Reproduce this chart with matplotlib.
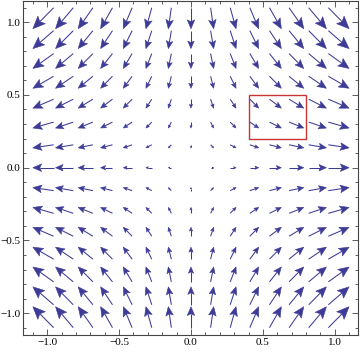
import matplotlib
matplotlib.use("Agg")
import matplotlib.pyplot as plt
import numpy as np
from matplotlib.collections import LineCollection, PolyCollection
from matplotlib.patches import Rectangle
from matplotlib.ticker import MultipleLocator

# sample positions (15 per axis) and field components
xs = [-1.027, -0.880, -0.733, -0.587, -0.440, -0.293, -0.147, 0.0,
      0.147, 0.293, 0.440, 0.587, 0.733, 0.880, 1.027]
ys = [-1.027, -0.880, -0.733, -0.587, -0.440, -0.293, -0.147, 0.0,
      0.147, 0.293, 0.440, 0.587, 0.733, 0.880, 1.027]
# horizontal component per column, vertical component per row
u_cols = [-1.03, -0.88, -0.73, -0.59, -0.44, -0.29, -0.15, 0.0,
          0.15, 0.29, 0.44, 0.59, 0.73, 0.88, 1.03]
v_rows = [1.03, 0.88, 0.73, 0.59, 0.44, 0.29, 0.15, 0.0,
          -0.15, -0.29, -0.44, -0.59, -0.73, -0.88, -1.03]

box = (0.4, 0.2, 0.8, 0.5)  # x0, y0, x1, y1

arrow_col = "#3d3b96"
X, Y = np.meshgrid(xs, ys)
U, V = np.meshgrid(u_cols, v_rows)

fig = plt.figure(figsize=(3.6, 3.52), dpi=100)
ax = fig.add_axes([0.065, 0.048, 0.929, 0.949])

scale = 0.14
shafts, heads = [], []
for x, y, u, v in zip(X.ravel(), Y.ravel(), U.ravel(), V.ravel()):
    m = np.hypot(u, v)
    if m < 1e-9:
        continue
    d = np.array([u, v]) / m
    n = np.array([-d[1], d[0]])
    L = scale * m
    p = np.array([x, y])
    tail = p - d * L / 2
    tip = p + d * L / 2
    hl = 0.42 * L
    hw = 0.18 * L
    back = tip - d * hl
    notch = tip - d * hl * 0.8
    shafts.append([tail, notch])
    heads.append([tip, back + n * hw, notch, back - n * hw])

ax.add_collection(LineCollection(shafts, colors=arrow_col, linewidths=0.75))
ax.add_collection(PolyCollection(heads, facecolors=arrow_col,
                                 edgecolors=arrow_col, linewidths=0.4))

ax.add_patch(Rectangle((box[0], box[1]), box[2] - box[0], box[3] - box[1],
                       fill=False, edgecolor="#cc3333", linewidth=1.0))

ax.set_xlim(-1.165, 1.16)
ax.set_ylim(-1.15, 1.145)

for s in ax.spines.values():
    s.set_color("#444444")
    s.set_linewidth(0.8)

ax.xaxis.set_major_locator(MultipleLocator(0.5))
ax.yaxis.set_major_locator(MultipleLocator(0.5))
ax.xaxis.set_minor_locator(MultipleLocator(0.1))
ax.yaxis.set_minor_locator(MultipleLocator(0.1))
ax.tick_params(which="both", direction="in", top=True, right=True,
               color="#444444", width=0.6)
ax.tick_params(which="major", length=4, labelsize=8, pad=2)
ax.tick_params(which="minor", length=2)
ax.xaxis.set_major_formatter(plt.FuncFormatter(lambda v, p: f"{v:.1f}".replace("-", "\u2212")))
ax.yaxis.set_major_formatter(plt.FuncFormatter(lambda v, p: f"{v:.1f}".replace("-", "\u2212")))
for lab in ax.get_xticklabels() + ax.get_yticklabels():
    lab.set_fontfamily("Liberation Serif")

fig.savefig("out.png", dpi=100)
